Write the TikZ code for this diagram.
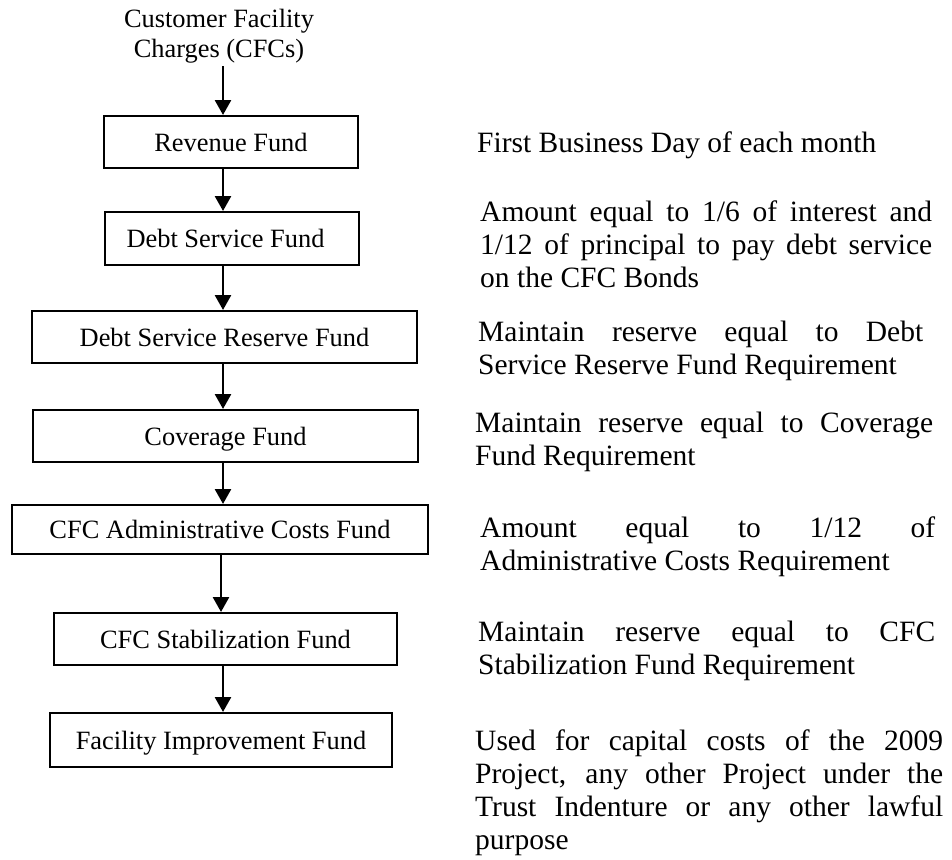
\documentclass[tikz,border=0pt]{standalone}
\usepackage{fontspec}
\setmainfont{Liberation Serif}
\usetikzlibrary{arrows.meta}
\setlength{\parindent}{0pt}
\tolerance=10000
\hbadness=10000
\begin{document}
\begin{tikzpicture}[x=1pt,y=1pt,
  fund/.style={draw, line width=2pt, inner sep=0pt, text height=18pt, text depth=0pt,
    font=\fontsize{26.4}{30}\selectfont},
  toptext/.style={inner sep=0pt, anchor=north, align=center, font=\fontsize{26.4}{30}\selectfont},
  note/.style={inner sep=0pt, anchor=north west, align=justify, font=\fontsize{29.5}{33}\selectfont},
  arr/.style={line width=2.7pt, -{Triangle[width=16pt,length=15pt]}}]
\fill[white] (0,0) rectangle (952,-859);
\useasboundingbox (0,0) rectangle (952,-859);
\coordinate (ax) at (223,0);
\coordinate (bx) at (221,0);

% left column
\node[toptext] (cfc) at (219,-6) {\strut Customer Facility\\Charges (CFCs)\strut};
\node[fund, minimum width=254pt, minimum height=52pt] (rev)  at (231,-142)   {Revenue Fund};
\node[fund, minimum width=254pt, minimum height=53pt] (ds)   at (232,-238.5) {\kern-13pt Debt Service Fund};
\node[fund, minimum width=385pt, minimum height=52pt] (dsr)  at (224.5,-337) {Debt Service Reserve Fund};
\node[fund, minimum width=385pt, minimum height=52pt] (cov)  at (225.5,-436) {Coverage Fund};
\node[fund, minimum width=416pt, minimum height=49pt] (adm)  at (220,-529.5) {CFC Administrative Costs Fund};
\node[fund, minimum width=343pt, minimum height=52pt] (stab) at (225.5,-639) {CFC Stabilization Fund};
\node[fund, minimum width=342pt, minimum height=54pt] (fi)   at (221,-740)   {Facility Improvement Fund};

\draw[arr] (cfc.south -| ax) -- (rev.north -| ax);
\draw[arr] (rev.south -| ax) -- (ds.north -| ax);
\draw[arr] (ds.south -| ax)  -- (dsr.north -| ax);
\draw[arr] (dsr.south -| ax) -- (cov.north -| ax);
\draw[arr] (cov.south -| ax) -- (adm.north -| ax);
\draw[arr] (adm.south -| bx) -- (stab.north -| bx);
\draw[arr] (stab.south -| ax) -- (fi.north -| ax);

% right column
\node[note, text width=460pt] (n1) at (477,-128.9) {\strut First Business Day of each month};
\node[note, text width=452pt] (n2) at (480,-197.9) {\strut Amount equal to 1/6 of interest and\linebreak 1/12 of principal to pay debt service\linebreak on the CFC Bonds};
\node[note, text width=445pt] (n3) at (478,-317.9) {\strut Maintain reserve equal to Debt\linebreak Service Reserve Fund Requirement};
\node[note, text width=458pt] (n4) at (475,-408.9) {\strut Maintain reserve equal to Coverage\linebreak Fund Requirement};
\node[note, text width=455pt] (n5) at (480,-513.9) {\strut Amount equal to 1/12 of\linebreak Administrative Costs Requirement};
\node[note, text width=457pt] (n6) at (478,-617.9) {\strut Maintain reserve equal to CFC\linebreak Stabilization Fund Requirement};
\node[note, text width=468pt] (n7) at (475,-726.9) {\strut Used for capital costs of the 2009\linebreak Project, any other Project under the\linebreak Trust Indenture or any other lawful\linebreak purpose};
\end{tikzpicture}
\end{document}
